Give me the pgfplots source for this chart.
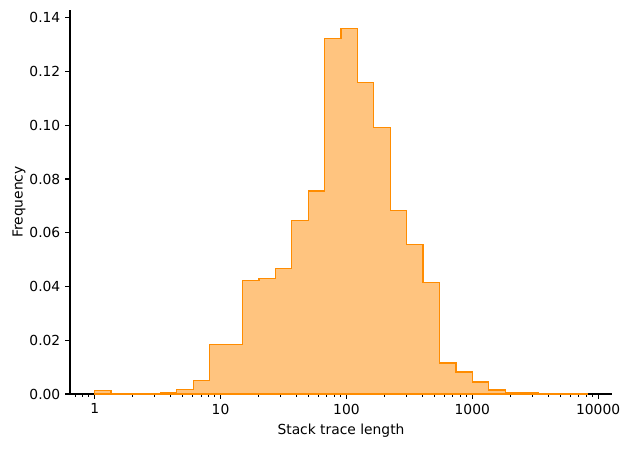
\documentclass[border=0pt]{standalone}
\usepackage{pgfplots}
\pgfplotsset{compat=1.18}
\usepackage{fontspec}
\setmainfont{DejaVu Sans}
\definecolor{edgeorange}{RGB}{255,140,0}
\definecolor{fillorange}{RGB}{255,196,127}
\begin{document}
\begin{tikzpicture}
\begin{axis}[
	scale only axis,
	width=390.2bp, height=276.5bp,
	xmode=log,
	xmin=0.637, xmax=12880,
	ymin=0, ymax=0.1429,
	axis x line*=bottom, axis y line*=left,
	axis line style={-, line width=0.8bp},
	tick align=outside,
	major tick length=3.5bp, minor tick length=2bp,
	every tick/.style={black, line width=0.8bp},
	minor tick style={line width=0.6bp},
	xtick={1,10,100,1000,10000},
	xticklabels={1,10,100,1000,10000},
	minor xtick={0.7,0.8,0.9,2,3,4,5,6,7,8,9,20,30,40,50,60,70,80,90,200,300,400,500,600,700,800,900,2000,3000,4000,5000,6000,7000,8000,9000},
	ytick={0,0.02,0.04,0.06,0.08,0.1,0.12,0.14},
	yticklabel style={/pgf/number format/.cd, fixed, fixed zerofill, precision=2},
	/pgf/number format/assume math mode=true,
	tick label style={font=\fontsize{10}{12}\selectfont},
	label style={font=\fontsize{10}{12}\selectfont},
	xlabel={Stack trace length},
	ylabel={Frequency},
	ylabel style={yshift=-4bp},
]
\addplot[const plot, draw=edgeorange, line width=0.9bp, fill=fillorange] coordinates {
	(1,0.0014) (1.3504,0.0000) (1.8236,0.0003) (2.4626,0.0003)
	(3.3255,0.0005) (4.4908,0.0017) (6.064,0.0051) (8.189,0.0183)
	(11.058,0.0183) (14.933,0.0421) (20.166,0.0431) (27.23,0.0468)
	(36.77,0.0647) (49.66,0.0755) (67.06,0.1324) (90.55,0.1361)
	(122.29,0.1158) (165.14,0.0993) (223.0,0.0684) (301.1,0.0557)
	(406.65,0.0416) (549.1,0.0115) (741.5,0.0082) (1001.4,0.0045)
	(1352.3,0.0015) (1826.1,0.0004) (2466,0.0004) (3330,0.0002)
	(4497,0.0002) (6073,0.0002) (8200,0.0002)
} \closedcycle;
\coordinate (bl) at (rel axis cs:-0.1292,-0.1406);
\coordinate (tr) at (rel axis cs:1.0351,1.026);
\end{axis}
\path (bl) rectangle (tr);
\end{tikzpicture}
\end{document}
